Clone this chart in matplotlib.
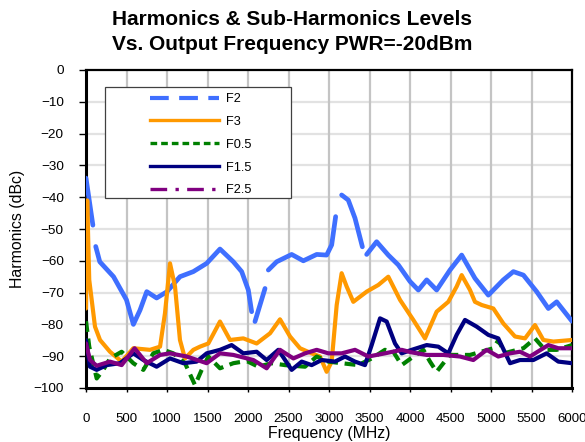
import numpy as np
import matplotlib
matplotlib.use("Agg")
import matplotlib.pyplot as plt
from matplotlib.lines import Line2D
from matplotlib.patches import Rectangle

plt.rcParams['font.family'] = ['Liberation Sans', 'DejaVu Sans']

title = "Harmonics & Sub-Harmonics Levels\nVs. Output Frequency PWR=-20dBm"
xlabel = "Frequency (MHz)"
ylabel = "Harmonics (dBc)"
xticks = list(range(0, 6001, 500))
yticks = list(range(-100, 1, 10))
series_names = ["F2", "F3", "F0.5", "F1.5", "F2.5"]

# F2 (gaps where the dashed line breaks are NaN)
f2_freq = [0, 85, 100, 120, 170, 340, 500, 585, 667, 750, 872, 1000, 1160, 1325, 1490, 1654,
           1819, 1922, 2004, 2045, 2065, 2086, 2210, 2230, 2251, 2354, 2539, 2683, 2848, 2971,
           3033, 3082, 3120, 3156, 3238, 3321, 3412, 3440, 3465, 3588, 3732, 3856, 4000, 4103,
           4206, 4329, 4494, 4638, 4802, 4967, 5152, 5276, 5400, 5564, 5708, 5811, 6000]
f2_vals = [-34, -48.8, np.nan, -55.5, -60.3, -65, -72.3, -80, -75.5, -69.7, -71.7, -69.7, -65, -63.4, -60.8, -56.3,
           -60.3, -63.4, -69.2, -76, np.nan, -79.1, -68.7, np.nan, -62.9, -60.3, -58, -60, -58, -58.2,
           -55, -46.1, np.nan, -39.3, -40.9, -46.6, -55.6, np.nan, -58, -54, -58.2, -61.3, -66.5, -69.2,
           -66, -69.2, -62.9, -58.2, -65.5, -70.8, -66, -63.4, -64.5, -69.7, -75, -72.9, -79]

f3_freq = [0, 15, 40, 111, 173, 296, 440, 584, 790, 914, 975, 1037, 1099, 1160, 1222, 1325, 1407,
           1510, 1654, 1778, 1942, 2107, 2272, 2395, 2519, 2642, 2786, 2889, 2971, 3033, 3095,
           3156, 3218, 3300, 3465, 3609, 3732, 3877, 4041, 4185, 4329, 4473, 4576, 4638, 4741,
           4802, 4885, 5029, 5152, 5296, 5420, 5543, 5646, 5770, 6000]
f3_vals = [-75, -41, -66, -80.7, -84.9, -88.6, -91.7, -87.5, -88, -87, -76.5, -60.8, -68.1, -84.9, -90.7, -88, -87,
           -86, -79.1, -84.9, -84.4, -86, -82.8, -78.4, -83.8, -87.5, -89.1, -90.1, -94.9, -91.7, -73.9,
           -63.9, -68.1, -72.9, -69.7, -67.6, -65, -72.3, -78.6, -84.4, -76, -72.9, -68.1, -64.5, -69.2,
           -72.9, -73.9, -75, -79.7, -83.8, -84.4, -80.2, -84.9, -85.4, -84.9]

f05_freq = [0, 40, 132, 214, 296, 440, 584, 708, 831, 955, 1078, 1222, 1346, 1428, 1510, 1654, 1819,
            1983, 2127, 2292, 2457, 2704, 2848, 2992, 3156, 3362, 3527, 3691, 3794, 3897, 4021, 4165,
            4247, 4329, 4412, 4494, 4741, 5029, 5090, 5173, 5400, 5543, 5667, 5811, 6000]
f05_vals = [-79, -87, -97, -94.3, -90.7, -88.6, -92.2, -94.3, -89.1, -88, -89.1, -92.2, -99.1, -94.3, -90.1, -93.8, -92.2,
            -91.5, -93.3, -92.2, -92.8, -93.3, -90.1, -91.7, -92.2, -92.8, -90.7, -88, -88.6, -92.8, -90.5, -88,
            -91.7, -94.9, -92.2, -89.6, -89.6, -87.5, -85, -89, -87.5, -84.4, -88, -88, -86.5]

f15_freq = [0, 49, 132, 255, 420, 584, 708, 872, 1037, 1201, 1366, 1490, 1654, 1798, 1942, 2107, 2230,
            2374, 2539, 2663, 2786, 2909, 3074, 3198, 3321, 3444, 3527, 3630, 3712, 3815, 3897, 4021,
            4206, 4350, 4473, 4576, 4679, 4823, 4967, 5090, 5235, 5358, 5523, 5687, 5831, 6000]
f15_vals = [-85, -93.3, -94.3, -92.8, -92.2, -89.1, -91.2, -93.3, -90.7, -92.2, -91.7, -89.1, -88, -86.5, -89.1, -88.6, -91.2,
            -88, -94.3, -91.7, -92.8, -91.2, -91.7, -90.1, -91.7, -92.8, -86.5, -78.1, -79.1, -86, -89.1, -88,
            -86.5, -87, -89.1, -83.3, -78.6, -80.7, -83.3, -84.4, -92.2, -91.2, -91.2, -89.1, -91.7, -92.2]

f25_freq = [0, 49, 132, 296, 440, 600, 749, 914, 1037, 1243, 1490, 1654, 1819, 2066, 2230, 2395, 2560,
            2704, 2848, 2992, 3156, 3321, 3486, 3691, 3897, 4021, 4206, 4412, 4617, 4782, 4947, 5090,
            5235, 5358, 5481, 5708, 5831, 6000]
f25_vals = [-86, -91.2, -93, -91.7, -92.8, -87.5, -92.2, -89.6, -89.1, -90.1, -92.2, -89.1, -89.6, -91.2, -93.8, -88, -90.7,
            -89.1, -88, -89.1, -89.1, -88, -90.1, -89.1, -88, -88.8, -89.6, -89.6, -90.1, -91.2, -88, -90.1,
            -89.1, -88.6, -90.1, -86.5, -87.5, -87.5]

c_f2, c_f3, c_f05, c_f15, c_f25 = "#3f6fff", "#ff9900", "#008000", "#000080", "#800080"

fig = plt.figure(figsize=(5.85, 4.42), dpi=100)
ax = fig.add_axes([86/585, 1 - 388/442, 486/585, 318/442])

ax.plot(f2_freq, f2_vals, color=c_f2, lw=3.4, solid_capstyle='round', zorder=3)
ax.plot(f3_freq, f3_vals, color=c_f3, lw=3.0, solid_capstyle='round', zorder=3)
ax.plot(f05_freq, f05_vals, color=c_f05, lw=3.0, dashes=(2.6, 1.6), zorder=3)
ax.plot(f15_freq, f15_vals, color=c_f15, lw=3.0, solid_capstyle='round', zorder=3)
ax.plot(f25_freq, f25_vals, color=c_f25, lw=3.0, solid_capstyle='round', zorder=3)

ax.set_xlim(0, 6000)
ax.set_ylim(-100, 0)
ax.set_xticks(xticks)
ax.set_yticks(yticks)
ax.tick_params(axis='x', direction='out', length=3, width=1, pad=15, labelsize=9.5)
ax.tick_params(axis='y', direction='out', length=5, width=1, pad=11, labelsize=9.7)
for x in xticks[1:-1]:
    ax.axvline(x, color="#c4c4c4", lw=1.6, zorder=1)
for y in yticks[1:-1]:
    ax.axhline(y, color="#e2e2e2", lw=1.6, zorder=0.9)
for side in ['left', 'bottom']:
    ax.spines[side].set_linewidth(2.2)
for side in ['top', 'right']:
    ax.spines[side].set_linewidth(1.6)

ax.set_xlabel(xlabel, fontsize=11.4, labelpad=1)
ax.set_ylabel(ylabel, fontsize=11.4, labelpad=6)
fig.text(0.5, 1 - 32/442, title, fontsize=15, fontweight='bold', ha='center', va='center',
         linespacing=1.4)

# legend box
rect = Rectangle(((105-86)/486, (388-198)/318), (291-105)/486, (198-87)/318,
                 transform=ax.transAxes, facecolor='white', edgecolor='#404040', lw=0.9, zorder=4)
ax.add_patch(rect)
handles = [
    Line2D([], [], color=c_f2, lw=3.0, dashes=(4.5, 2.5)),
    Line2D([], [], color=c_f3, lw=2.4),
    Line2D([], [], color=c_f05, lw=2.4, dashes=(2.0, 1.2)),
    Line2D([], [], color=c_f15, lw=2.4),
    Line2D([], [], color=c_f25, lw=2.4, dashes=(5, 2.5, 1, 2.5)),
]
leg = ax.legend(handles, series_names, loc='upper left', bbox_to_anchor=((150-86)/486, (388-93)/318),
                frameon=False, borderpad=0, borderaxespad=0, handlelength=5.4, handletextpad=0.55,
                labelspacing=0.85, fontsize=9.2)
leg.set_zorder(5)

fig.savefig("out.png", dpi=100)
